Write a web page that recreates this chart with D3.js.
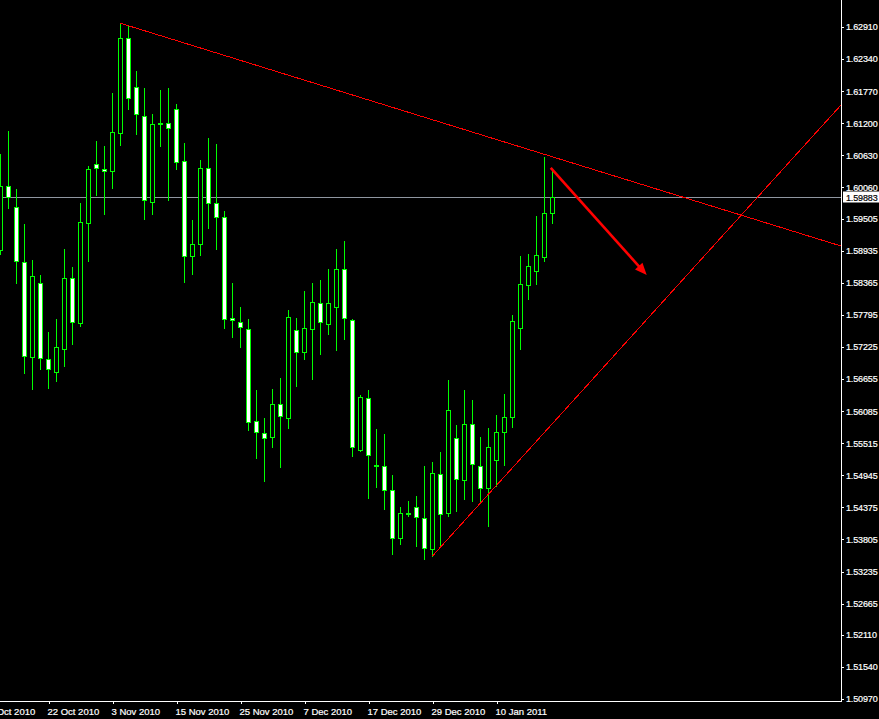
<!DOCTYPE html>
<html>
<head>
<meta charset="utf-8">
<script src="https://cdn.jsdelivr.net/npm/d3@7/dist/d3.min.js"></script>
<style>
  html, body { margin: 0; padding: 0; background: #000; }
  svg { display: block; }
  text { font-family: "Liberation Sans", Arial, sans-serif; }
</style>
</head>
<body>
<svg id="chart" width="879" height="719"></svg>
<script>
// ---------------- DATA ----------------
const candleOpen = [
  1.58948,1.60080,1.59707,1.58729,1.57041,1.58356,1.57016,1.56775,1.57183,1.58445,
  1.57656,1.59422,1.60481,1.60392,1.60346,1.61021,1.62709,1.61849,1.61334,1.59795,
  1.61204,1.61199,1.61448,1.60524,1.58847,1.59049,1.60399,1.59778,1.59529,1.57745,
  1.57663,1.57539,1.55904,1.55691,1.55620,1.56206,1.55968,1.57521,1.57141,1.57550,
  1.58001,1.57638,1.57940,1.58605,1.57699,1.55400,1.56313,1.55133,1.55105,1.54678,
  1.53836,1.54280,1.54376,1.54181,1.53630,1.54962,1.54270,1.55602,1.54856,1.55851,
  1.55105,1.54714,1.55211,1.55709,1.55975,1.57553,1.58321,1.58566,1.58832,1.59600
];
const candleHigh = [
  1.60653,1.61062,1.60032,1.59410,1.58770,1.58504,1.57491,1.57722,1.58966,1.58646,
  1.59783,1.60440,1.60885,1.60796,1.61737,1.62976,1.62928,1.62128,1.61826,1.61364,
  1.61791,1.61826,1.61542,1.60849,1.59481,1.60547,1.60938,1.60831,1.59641,1.58361,
  1.57935,1.57722,1.56460,1.55963,1.56478,1.56674,1.57882,1.57740,1.58219,1.58361,
  1.58415,1.58610,1.58966,1.59108,1.57722,1.56377,1.56460,1.55767,1.55679,1.54950,
  1.54381,1.54488,1.54577,1.55110,1.55181,1.55359,1.56638,1.55838,1.56460,1.56283,
  1.55620,1.55780,1.56011,1.56384,1.57788,1.58836,1.58871,1.59552,1.60597,1.60348
];
const candleLow = [
  1.58871,1.59699,1.58367,1.56768,1.56483,1.56839,1.56501,1.56626,1.56892,1.57283,
  1.57603,1.58758,1.59925,1.59593,1.60055,1.60819,1.61458,1.61014,1.59504,1.59593,
  1.60801,1.59842,1.60392,1.58385,1.58527,1.58864,1.59344,1.58971,1.57562,1.57407,
  1.57230,1.55755,1.55257,1.54843,1.55453,1.55098,1.55790,1.56537,1.57016,1.56661,
  1.57105,1.57461,1.57176,1.57372,1.55293,1.55382,1.54536,1.54742,1.54351,1.53552,
  1.53729,1.54222,1.53689,1.53452,1.53511,1.53671,1.54227,1.54316,1.54529,1.54493,
  1.54476,1.54049,1.54755,1.55122,1.55808,1.57180,1.58086,1.58335,1.58761,1.59436
];
const candleClose = [
  1.60085,1.59895,1.58747,1.57059,1.58481,1.57024,1.56828,1.57219,1.58445,1.57674,
  1.59440,1.60382,1.60399,1.60346,1.61039,1.62709,1.61643,1.61359,1.59831,1.61181,
  1.61204,1.61110,1.60506,1.58836,1.59049,1.60399,1.59778,1.59540,1.57727,1.57699,
  1.57574,1.55886,1.55709,1.55602,1.56206,1.55993,1.57752,1.57141,1.57557,1.58019,
  1.57674,1.58001,1.58605,1.57745,1.55442,1.56331,1.55297,1.55133,1.54678,1.53836,
  1.54270,1.54280,1.54198,1.53648,1.54980,1.54252,1.56100,1.54874,1.55851,1.55140,
  1.54714,1.55442,1.55709,1.55975,1.57681,1.58338,1.58658,1.58854,1.59600,1.59883
];

const priceLabels = [
  "1.62910","1.62340","1.61770","1.61200","1.60630","1.60060","1.59505","1.58935",
  "1.58365","1.57795","1.57225","1.56655","1.56085","1.55515","1.54945","1.54375",
  "1.53805","1.53235","1.52665","1.52110","1.51540","1.50970"
];
const dateLabels = [
  "12 Oct 2010","22 Oct 2010","3 Nov 2010","15 Nov 2010","25 Nov 2010",
  "7 Dec 2010","17 Dec 2010","29 Dec 2010","10 Jan 2011"
];
// bar index of each dated label (bar 0 = first visible candle)
const dateLabelBars = [-2, 6, 14, 22, 30, 38, 46, 54, 62];
const currentPrice = 1.59883;

// annotations: [bar index, price]
const resistanceLine = [[15, 1.62976], [68, 1.60647]];
const supportLine = [[54, 1.53511], [80, 1.57591]];
const arrowLine = [[68.78, 1.60405], [80.78, 1.58504]];

// ---------------- LAYOUT ----------------
const W = 879, H = 719;
const plotRight = 841, plotBottom = 701;
const svg = d3.select("#chart");
svg.append("rect").attr("width", W).attr("height", H).attr("fill", "#000");

const xScale = d3.scaleLinear().domain([0, 105]).range([0.5, 840.5]);
const yScale = d3.scaleLinear().domain([1.50970, 1.62910]).range([699, 27]);

svg.append("clipPath").attr("id", "plotClip")
  .append("rect").attr("x", 0).attr("y", 0).attr("width", plotRight).attr("height", plotBottom);

const plot = svg.append("g").attr("clip-path", "url(#plotClip)");

// current price line
const cpY = Math.round(yScale(currentPrice)) + 0.5;
plot.append("line")
  .attr("x1", 0).attr("x2", plotRight).attr("y1", cpY).attr("y2", cpY)
  .attr("stroke", "#8f96a0").attr("stroke-width", 1).attr("shape-rendering", "crispEdges");

// candles
const candles = d3.range(candleOpen.length).map(i => ({
  i, o: candleOpen[i], h: candleHigh[i], l: candleLow[i], c: candleClose[i]
}));
const green = "#00ff00";
const cg = plot.append("g").attr("shape-rendering", "crispEdges");
cg.selectAll("line.wick").data(candles).join("line")
  .attr("class", "wick")
  .attr("x1", d => xScale(d.i)).attr("x2", d => xScale(d.i))
  .attr("y1", d => Math.round(yScale(d.h)))
  .attr("y2", d => Math.round(yScale(d.l)) + 1)
  .attr("stroke", green).attr("stroke-width", 1);
cg.selectAll("rect.body").data(candles).join("rect")
  .attr("class", "body")
  .attr("x", d => xScale(d.i) - 2)
  .attr("y", d => Math.round(yScale(Math.max(d.o, d.c))) + 0.5)
  .attr("width", 4)
  .attr("height", d => Math.max(1, Math.round(yScale(Math.min(d.o, d.c))) - Math.round(yScale(Math.max(d.o, d.c)))))
  .attr("fill", d => d.c < d.o ? "#ffffff" : "#000000")
  .attr("stroke", green).attr("stroke-width", 1);

// trend lines (rays to the right edge)
const edgeBar = xScale.invert(plotRight);
function ray(pts) {
  const [[b0, p0], [b1, p1]] = pts;
  const slope = (p1 - p0) / (b1 - b0);
  return [[b0, p0], [edgeBar, p0 + slope * (edgeBar - b0)]];
}
[resistanceLine, supportLine].forEach(pts => {
  const r = ray(pts);
  plot.append("line")
    .attr("x1", xScale(r[0][0])).attr("y1", yScale(r[0][1]))
    .attr("x2", xScale(r[1][0])).attr("y2", yScale(r[1][1]))
    .attr("stroke", "#ff0000").attr("stroke-width", 1)
    .attr("shape-rendering", "crispEdges");
});

// arrow
{
  const x0 = xScale(arrowLine[0][0]), y0 = yScale(arrowLine[0][1]);
  const x1 = xScale(arrowLine[1][0]), y1 = yScale(arrowLine[1][1]);
  const len = Math.hypot(x1 - x0, y1 - y0);
  const ux = (x1 - x0) / len, uy = (y1 - y0) / len;
  const headLen = 12, headW = 5;
  const bx = x1 - ux * headLen, by = y1 - uy * headLen;
  plot.append("line")
    .attr("x1", x0).attr("y1", y0).attr("x2", bx + ux * 2).attr("y2", by + uy * 2)
    .attr("stroke", "#ff0000").attr("stroke-width", 2.6);
  plot.append("polygon")
    .attr("points", [[x1, y1], [bx - uy * headW, by + ux * headW], [bx + uy * headW, by - ux * headW]].map(p => p.join(",")).join(" "))
    .attr("fill", "#ff0000");
}

// ---------------- AXES ----------------
svg.append("line").attr("x1", plotRight + 0.5).attr("x2", plotRight + 0.5)
  .attr("y1", 0).attr("y2", plotBottom + 1)
  .attr("stroke", "#fff").attr("shape-rendering", "crispEdges");
svg.append("line").attr("x1", 0).attr("x2", plotRight + 1)
  .attr("y1", plotBottom + 0.5).attr("y2", plotBottom + 0.5)
  .attr("stroke", "#fff").attr("shape-rendering", "crispEdges");

const dateFont = "9.5px";
const priceFont = "9px";
const yAxis = d3.axisRight(yScale)
  .tickValues(priceLabels.map(Number))
  .tickFormat((d, i) => priceLabels[i])
  .tickSize(3).tickSizeOuter(0).tickPadding(2);
const gy = svg.append("g").attr("transform", `translate(${plotRight},0)`).call(yAxis);
gy.select(".domain").remove();
gy.selectAll(".tick line").attr("stroke", "#fff").attr("shape-rendering", "crispEdges");
gy.selectAll(".tick text").attr("fill", "#fff")
  .attr("stroke", "#fff").attr("stroke-width", 0.2)
  .style("font-size", priceFont).style("letter-spacing", "-0.15px")
  .attr("font-family", "Liberation Sans, Arial, sans-serif");

// current price tag
const tagG = svg.append("g");
tagG.append("rect").attr("x", plotRight + 2).attr("y", cpY - 6)
  .attr("width", W - plotRight - 2).attr("height", 11).attr("fill", "#fff");
tagG.append("text").attr("x", plotRight + 5).attr("y", cpY + 3.2)
  .attr("fill", "#000").attr("stroke", "#000").attr("stroke-width", 0.2)
  .style("font-size", priceFont).style("letter-spacing", "-0.15px")
  .text(currentPrice.toFixed(5));

// date axis
const xAxis = d3.axisBottom(xScale)
  .tickValues(dateLabelBars)
  .tickFormat((d, i) => dateLabels[i])
  .tickSize(3).tickSizeOuter(0).tickPadding(4);
const gx = svg.append("g").attr("transform", `translate(0,${plotBottom})`).call(xAxis);
gx.select(".domain").remove();
gx.selectAll(".tick line").attr("stroke", "#fff").attr("shape-rendering", "crispEdges");
gx.selectAll(".tick text").attr("fill", "#fff").attr("text-anchor", "start").attr("dx", -1.5)
  .attr("stroke", "#fff").attr("stroke-width", 0.2)
  .style("font-size", dateFont)
  .attr("font-family", "Liberation Sans, Arial, sans-serif");
</script>
</body>
</html>
